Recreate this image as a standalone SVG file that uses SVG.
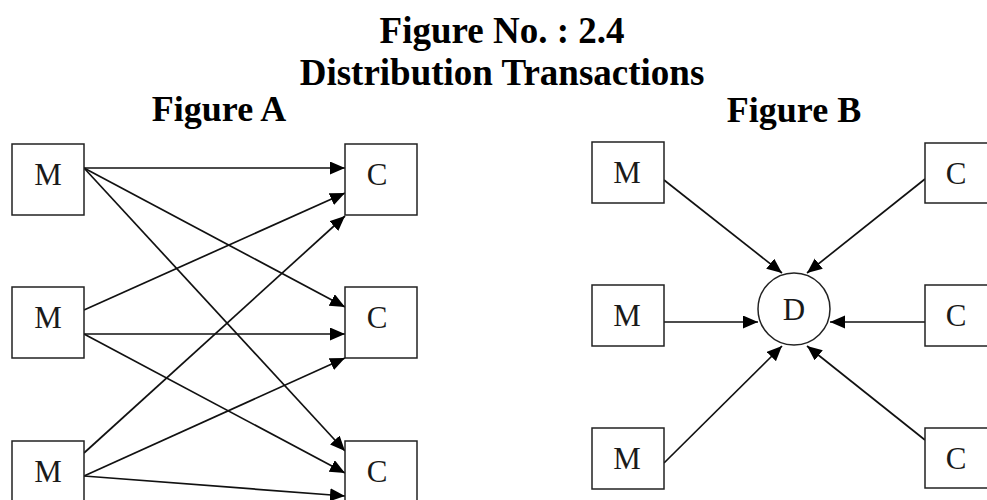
<svg xmlns="http://www.w3.org/2000/svg" width="987" height="500" viewBox="0 0 987 500">
  <style>
    .title { font-family: "Liberation Serif", "Times New Roman", serif; font-weight: bold; font-size: 37px; fill: #000; text-anchor: middle; }
    .sub { font-family: "Liberation Serif", "Times New Roman", serif; font-weight: bold; font-size: 36px; fill: #000; text-anchor: middle; }
    .box { fill: #fff; stroke: #222; stroke-width: 1.5; }
    .lbl { font-family: "Liberation Serif", "Times New Roman", serif; font-size: 31px; fill: #1a1a1a; text-anchor: middle; }
    .edge { stroke: #111; stroke-width: 1.7; fill: none; marker-end: url(#arrow); }
  </style>
  <defs>
    <marker id="arrow" markerUnits="userSpaceOnUse" markerWidth="17" markerHeight="14" refX="15" refY="6.5" orient="auto">
      <path d="M0,0 L15,6.5 L0,13 z" fill="#000"/>
    </marker>
  </defs>
  <rect width="987" height="500" fill="#fff"/>

  <!-- headings -->
  <text class="title" x="502" y="43">Figure No. : 2.4</text>
  <text class="title" x="502" y="85">Distribution Transactions</text>
  <text class="sub" x="219" y="121">Figure A</text>
  <text class="sub" x="794" y="122">Figure B</text>

  <!-- Figure A: every manufacturer trades with every customer -->
  <g id="connectors-a">
    <line class="edge" x1="84" y1="168" x2="345" y2="168"/>
    <line class="edge" x1="84" y1="168" x2="345" y2="307"/>
    <line class="edge" x1="84" y1="168" x2="345" y2="451"/>
    <line class="edge" x1="84" y1="310" x2="345" y2="193"/>
    <line class="edge" x1="84" y1="334" x2="345" y2="334"/>
    <line class="edge" x1="84" y1="334" x2="345" y2="473"/>
    <line class="edge" x1="84" y1="453" x2="345" y2="216"/>
    <line class="edge" x1="84" y1="476" x2="345" y2="358"/>
    <line class="edge" x1="84" y1="476" x2="345" y2="496"/>
  </g>
  <g id="a-m1"><rect class="box" x="12" y="144" width="72" height="71"/><text class="lbl" x="48" y="185">M</text></g>
  <g id="a-m2"><rect class="box" x="12" y="287" width="72" height="71"/><text class="lbl" x="48" y="328">M</text></g>
  <g id="a-m3"><rect class="box" x="12" y="441" width="72" height="71"/><text class="lbl" x="48" y="482">M</text></g>
  <g id="a-c1"><rect class="box" x="345" y="144" width="72" height="71"/><text class="lbl" x="377" y="185">C</text></g>
  <g id="a-c2"><rect class="box" x="345" y="287" width="72" height="71"/><text class="lbl" x="377" y="328">C</text></g>
  <g id="a-c3"><rect class="box" x="345" y="441" width="72" height="71"/><text class="lbl" x="377" y="482">C</text></g>

  <!-- Figure B: all trade passes through the distributor -->
  <g id="connectors-b">
    <line class="edge" x1="664" y1="180" x2="782" y2="273"/>
    <line class="edge" x1="925" y1="179" x2="807" y2="273"/>
    <line class="edge" x1="664" y1="322" x2="758" y2="322"/>
    <line class="edge" x1="925" y1="322" x2="830" y2="322"/>
    <line class="edge" x1="664" y1="463" x2="782" y2="346"/>
    <line class="edge" x1="925" y1="440" x2="807" y2="346"/>
  </g>
  <g id="b-d"><circle cx="794" cy="309" r="36" fill="#fff" stroke="#222" stroke-width="1.5"/><text class="lbl" x="794" y="320">D</text></g>
  <g id="b-m1"><rect class="box" x="592" y="142" width="72" height="61"/><text class="lbl" x="627" y="183">M</text></g>
  <g id="b-m2"><rect class="box" x="592" y="285" width="72" height="61"/><text class="lbl" x="627" y="326">M</text></g>
  <g id="b-m3"><rect class="box" x="592" y="428" width="72" height="61"/><text class="lbl" x="627" y="469">M</text></g>
  <g id="b-c1"><rect class="box" x="925" y="143" width="72" height="60"/><text class="lbl" x="956" y="184">C</text></g>
  <g id="b-c2"><rect class="box" x="925" y="285" width="72" height="61"/><text class="lbl" x="956" y="326">C</text></g>
  <g id="b-c3"><rect class="box" x="925" y="428" width="72" height="60"/><text class="lbl" x="956" y="469">C</text></g>
</svg>
